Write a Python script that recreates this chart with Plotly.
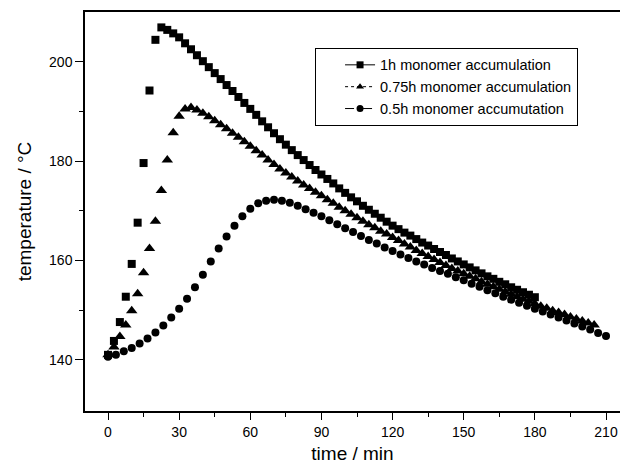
import numpy as np
import plotly.graph_objects as go

# 1h monomer accumulation (squares), 2.5 min sampling
sq_vals = [141.0, 143.8, 147.6, 152.7, 159.3, 167.6, 179.6, 194.2, 204.4, 206.9,
           206.4, 205.7, 204.9, 203.7, 202.5, 201.3, 200.1, 198.9, 197.7, 196.5,
           195.3, 194.1, 192.9, 191.7, 190.5, 189.3, 188.0, 186.8, 185.6, 184.4,
           183.3, 182.2, 181.2, 180.2, 179.2, 178.2, 177.3, 176.4, 175.5, 174.5,
           173.6, 172.7, 171.9, 171.0, 170.2, 169.4, 168.6, 167.8, 167.0, 166.3,
           165.6, 165.0, 164.3, 163.6, 163.0, 162.3, 161.7, 161.1, 160.4, 159.8,
           159.2, 158.6, 158.0, 157.4, 156.8, 156.3, 155.7, 155.2, 154.6, 154.1,
           153.6, 153.1, 152.6]
sq_time = [round(i * 2.5, 2) for i in range(len(sq_vals))]

# 0.75h monomer accumulation (triangles), 2.5 min sampling
tr_vals = [141.0, 142.6, 144.7, 147.0, 149.9, 153.3, 157.5, 162.4, 167.9, 174.1,
           180.2, 185.7, 189.0, 190.5, 190.8, 190.3, 189.6, 188.9, 188.1, 187.3,
           186.5, 185.6, 184.8, 183.9, 183.0, 182.1, 181.2, 180.2, 179.3, 178.4,
           177.6, 176.8, 176.0, 175.2, 174.5, 173.7, 173.0, 172.2, 171.5, 170.7,
           170.0, 169.3, 168.6, 167.9, 167.2, 166.6, 165.9, 165.3, 164.6, 164.0,
           163.3, 162.7, 162.0, 161.4, 160.8, 160.2, 159.6, 159.0, 158.4, 157.9,
           157.3, 156.8, 156.3, 155.7, 155.2, 154.7, 154.2, 153.7, 153.2, 152.7,
           152.2, 151.8, 151.3, 150.8, 150.4, 149.9, 149.5, 149.1, 148.6, 148.2,
           147.8, 147.4, 147.0]
tr_time = [round(i * 2.5, 2) for i in range(len(tr_vals))]

# 0.5h monomer accumulation (circles), 10/3 min sampling
ci_vals = [140.6, 141.0, 141.7, 142.4, 143.3, 144.3, 145.5, 146.9, 148.5, 150.3,
           152.3, 154.6, 157.1, 159.8, 162.4, 164.8, 167.0, 168.9, 170.4, 171.5,
           172.0, 172.2, 172.0, 171.6, 171.0, 170.3, 169.6, 168.9, 168.1, 167.3,
           166.5, 165.7, 164.9, 164.1, 163.4, 162.6, 161.9, 161.2, 160.5, 159.8,
           159.2, 158.5, 157.9, 157.3, 156.6, 156.0, 155.3, 154.7, 154.0, 153.4,
           152.7, 152.1, 151.5, 150.9, 150.3, 149.7, 149.1, 148.5, 147.9, 147.3,
           146.7, 146.1, 145.4, 144.8]
ci_time = [round(i * 10 / 3, 2) for i in range(len(ci_vals))]

x_ticks = [0, 30, 60, 90, 120, 150, 180, 210]
x_minor = [15, 45, 75, 105, 135, 165, 195]
y_ticks = [140, 160, 180, 200]
y_minor = [150, 170, 190]

names = ["1h monomer accumulation", "0.75h monomer accumulation", "0.5h monomer accumutation"]
symbols = ["square", "triangle-up", "circle"]
dashes = ["solid", "dot", "dash"]
sizes = [8, 10, 8]

font_family = "Liberation Sans, Arial, sans-serif"

fig = go.Figure()
for t, v, s, sz in zip([sq_time, tr_time, ci_time], [sq_vals, tr_vals, ci_vals], symbols, sizes):
    fig.add_trace(go.Scatter(x=t, y=v, mode="markers", showlegend=False,
                             marker=dict(symbol=s, size=sz, color="black", line=dict(width=0))))
# legend entries
for n, s, d in zip(names, symbols, dashes):
    fig.add_trace(go.Scatter(x=[None], y=[None], mode="lines+markers", name=n,
                             line=dict(color="black", width=1, dash=d),
                             marker=dict(symbol=s, size=7, color="black")))

fig.update_layout(
    width=620, height=472,
    margin=dict(l=85, r=0, t=12, b=61, autoexpand=False),
    paper_bgcolor="white", plot_bgcolor="white",
    font=dict(family=font_family, color="black", size=14),
    legend=dict(x=0.43, y=0.91, xanchor="left", yanchor="top",
                bordercolor="black", borderwidth=1, bgcolor="white",
                font=dict(size=14.5), tracegroupgap=0, indentation=24),
    xaxis=dict(range=[-9.7, 215.9], tickvals=x_ticks, automargin=False,
               ticks="outside", ticklen=7, tickwidth=1.2, tickcolor="black",
               minor=dict(tickvals=x_minor, ticks="outside", ticklen=4, tickcolor="black"),
               showline=True, linecolor="black", linewidth=1.5, mirror=True,
               showgrid=False, zeroline=False,
               title=dict(text="time / min", font=dict(size=19), standoff=8)),
    yaxis=dict(range=[129.7, 210], tickvals=y_ticks, automargin=False,
               ticks="outside", ticklen=8, tickwidth=1.2, tickcolor="black",
               minor=dict(tickvals=y_minor, ticks="outside", ticklen=4, tickcolor="black"),
               showline=True, linecolor="black", linewidth=1.5,
               showgrid=False, zeroline=False,
               title=dict(text="temperature / °C", font=dict(size=19), standoff=12)),
)

fig.write_html(
    "out.html",
    config={"displayModeBar": False},
    post_script="document.body.style.margin='0';"
                "document.body.style.overflow='hidden';"
                "document.documentElement.style.overflow='hidden';",
)
